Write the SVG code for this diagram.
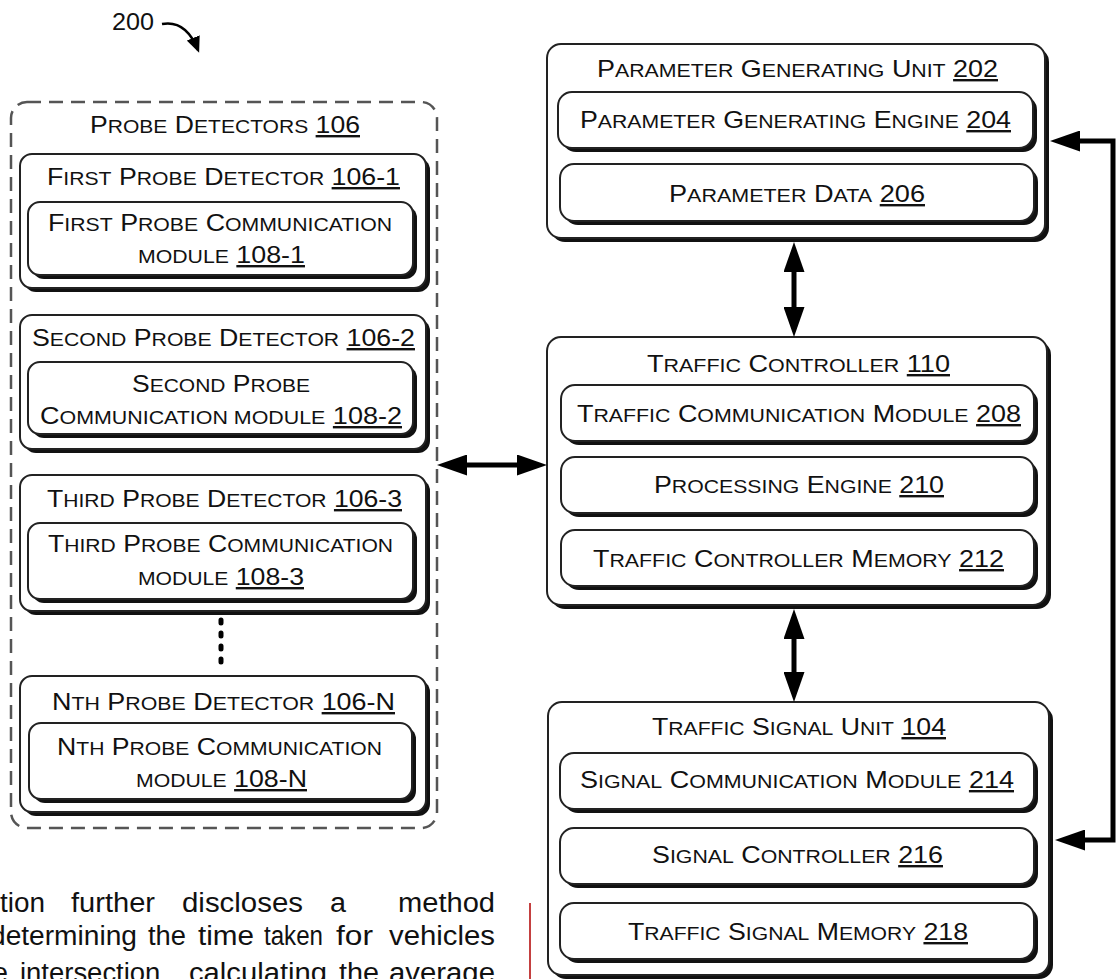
<svg xmlns="http://www.w3.org/2000/svg" width="1116" height="979" viewBox="0 0 1116 979">
<style>
.t{font-family:"Liberation Sans",Arial,sans-serif;font-size:24px;fill:#111;text-anchor:middle}
.s{font-size:19px}
.u{text-decoration:underline}
.box{fill:#fff;stroke:#222;stroke-width:2}
.sh{fill:#111}
.dash{fill:none;stroke:#555;stroke-width:2.5;stroke-dasharray:14 8}
.conn{fill:none;stroke:#000;stroke-width:5}
.para{font-family:"Liberation Sans",Arial,sans-serif;font-size:27px;fill:#111}
</style>
<defs>
<marker id="ah" viewBox="0 0 30 21" refX="20" refY="10.5" markerWidth="30" markerHeight="21" markerUnits="userSpaceOnUse" orient="auto-start-reverse"><path d="M0,0 L30,10.5 L0,21 z" fill="#000"/></marker>
<marker id="ah2" viewBox="0 0 16 14" refX="13" refY="7" markerWidth="16" markerHeight="14" markerUnits="userSpaceOnUse" orient="auto"><path d="M0,0 L16,7 L0,14 z" fill="#000"/></marker>
</defs>
<rect width="1116" height="979" fill="#fff"/>

<g id="label-200">
<text x="112" y="30" class="t" style="text-anchor:start" textLength="42" lengthAdjust="spacingAndGlyphs">200</text>
<path d="M162,24 C178,21 190,30 198,50" fill="none" stroke="#000" stroke-width="2.5" marker-end="url(#ah2)"/>
</g>

<g id="probe-detectors">
<rect x="11" y="102" width="426" height="726" rx="16" class="dash"/>
<text x="225" y="133" class="t" textLength="270" lengthAdjust="spacingAndGlyphs">P<tspan class="s">ROBE</tspan> D<tspan class="s">ETECTORS</tspan> <tspan class="u">106</tspan></text>
</g>

<g id="probe-1">
<rect x="24" y="158" width="406" height="134" rx="12" class="sh"/>
<rect x="20" y="154" width="406" height="134" rx="12" class="box"/>
<text x="223.5" y="185" class="t" textLength="353" lengthAdjust="spacingAndGlyphs">F<tspan class="s">IRST</tspan> P<tspan class="s">ROBE</tspan> D<tspan class="s">ETECTOR</tspan> <tspan class="u">106-1</tspan></text>
<g id="probe-comm-1">
<rect x="32" y="206" width="385" height="73" rx="12" class="sh"/>
<rect x="28" y="202" width="385" height="73" rx="12" class="box"/>
<text x="220" y="231" class="t" textLength="344" lengthAdjust="spacingAndGlyphs">F<tspan class="s">IRST</tspan> P<tspan class="s">ROBE</tspan> C<tspan class="s">OMMUNICATION</tspan></text>
<text x="221.5" y="263" class="t" textLength="167" lengthAdjust="spacingAndGlyphs"><tspan class="s">MODULE</tspan> <tspan class="u">108-1</tspan></text>
</g>
</g>

<g id="probe-2">
<rect x="24" y="319" width="406" height="134" rx="12" class="sh"/>
<rect x="20" y="315" width="406" height="134" rx="12" class="box"/>
<text x="223.5" y="346" class="t" textLength="383" lengthAdjust="spacingAndGlyphs">S<tspan class="s">ECOND</tspan> P<tspan class="s">ROBE</tspan> D<tspan class="s">ETECTOR</tspan> <tspan class="u">106-2</tspan></text>
<g id="probe-comm-2">
<rect x="32" y="366" width="385" height="72" rx="12" class="sh"/>
<rect x="28" y="362" width="385" height="72" rx="12" class="box"/>
<text x="221" y="392" class="t" textLength="178" lengthAdjust="spacingAndGlyphs">S<tspan class="s">ECOND</tspan> P<tspan class="s">ROBE</tspan></text>
<text x="221" y="424" class="t" textLength="362" lengthAdjust="spacingAndGlyphs">C<tspan class="s">OMMUNICATION MODULE</tspan> <tspan class="u">108-2</tspan></text>
</g>
</g>

<g id="probe-3">
<rect x="24" y="479" width="406" height="136" rx="12" class="sh"/>
<rect x="20" y="475" width="406" height="136" rx="12" class="box"/>
<text x="224.5" y="507" class="t" textLength="355" lengthAdjust="spacingAndGlyphs">T<tspan class="s">HIRD</tspan> P<tspan class="s">ROBE</tspan> D<tspan class="s">ETECTOR</tspan> <tspan class="u">106-3</tspan></text>
<g id="probe-comm-3">
<rect x="32" y="527" width="385" height="76" rx="12" class="sh"/>
<rect x="28" y="523" width="385" height="76" rx="12" class="box"/>
<text x="220.5" y="552" class="t" textLength="345" lengthAdjust="spacingAndGlyphs">T<tspan class="s">HIRD</tspan> P<tspan class="s">ROBE</tspan> C<tspan class="s">OMMUNICATION</tspan></text>
<text x="221" y="585" class="t" textLength="166" lengthAdjust="spacingAndGlyphs"><tspan class="s">MODULE</tspan> <tspan class="u">108-3</tspan></text>
</g>
</g>

<g id="probe-n">
<rect x="24" y="680" width="406" height="136" rx="12" class="sh"/>
<rect x="20" y="676" width="406" height="136" rx="12" class="box"/>
<text x="223.5" y="710" class="t" textLength="343" lengthAdjust="spacingAndGlyphs">N<tspan class="s">TH</tspan> P<tspan class="s">ROBE</tspan> D<tspan class="s">ETECTOR</tspan> <tspan class="u">106-N</tspan></text>
<g id="probe-comm-n">
<rect x="33" y="727" width="383" height="76" rx="12" class="sh"/>
<rect x="29" y="723" width="383" height="76" rx="12" class="box"/>
<text x="219.5" y="755" class="t" textLength="325" lengthAdjust="spacingAndGlyphs">N<tspan class="s">TH</tspan> P<tspan class="s">ROBE</tspan> C<tspan class="s">OMMUNICATION</tspan></text>
<text x="221.5" y="787" class="t" textLength="171" lengthAdjust="spacingAndGlyphs"><tspan class="s">MODULE</tspan> <tspan class="u">108-N</tspan></text>
</g>
</g>

<g id="pgu">
<rect x="551" y="48" width="498" height="194" rx="14" class="sh"/>
<rect x="547" y="44" width="498" height="194" rx="14" class="box"/>
<text x="797.5" y="77" class="t" textLength="401" lengthAdjust="spacingAndGlyphs">P<tspan class="s">ARAMETER</tspan> G<tspan class="s">ENERATING</tspan> U<tspan class="s">NIT</tspan> <tspan class="u">202</tspan></text>
<g id="pge">
<rect x="562" y="96" width="475" height="56" rx="14" class="sh"/>
<rect x="558" y="92" width="475" height="56" rx="14" class="box"/>
<text x="795.5" y="128" class="t" textLength="431" lengthAdjust="spacingAndGlyphs">P<tspan class="s">ARAMETER</tspan> G<tspan class="s">ENERATING</tspan> E<tspan class="s">NGINE</tspan> <tspan class="u">204</tspan></text>
</g>
<g id="pdata">
<rect x="564" y="168" width="474" height="57" rx="14" class="sh"/>
<rect x="560" y="164" width="474" height="57" rx="14" class="box"/>
<text x="797" y="202" class="t" textLength="256" lengthAdjust="spacingAndGlyphs">P<tspan class="s">ARAMETER</tspan> D<tspan class="s">ATA</tspan> <tspan class="u">206</tspan></text>
</g>
</g>

<g id="tc">
<rect x="551" y="341" width="500" height="268" rx="14" class="sh"/>
<rect x="547" y="337" width="500" height="268" rx="14" class="box"/>
<text x="798.5" y="372" class="t" textLength="303" lengthAdjust="spacingAndGlyphs">T<tspan class="s">RAFFIC</tspan> C<tspan class="s">ONTROLLER</tspan> <tspan class="u">110</tspan></text>
<g id="tcm">
<rect x="565" y="389" width="473" height="56" rx="14" class="sh"/>
<rect x="561" y="385" width="473" height="56" rx="14" class="box"/>
<text x="799" y="422" class="t" textLength="444" lengthAdjust="spacingAndGlyphs">T<tspan class="s">RAFFIC</tspan> C<tspan class="s">OMMUNICATION</tspan> M<tspan class="s">ODULE</tspan> <tspan class="u">208</tspan></text>
</g>
<g id="pe">
<rect x="565" y="461" width="473" height="56" rx="14" class="sh"/>
<rect x="561" y="457" width="473" height="56" rx="14" class="box"/>
<text x="799" y="493" class="t" textLength="290" lengthAdjust="spacingAndGlyphs">P<tspan class="s">ROCESSING</tspan> E<tspan class="s">NGINE</tspan> <tspan class="u">210</tspan></text>
</g>
<g id="tcmem">
<rect x="565" y="534" width="473" height="56" rx="14" class="sh"/>
<rect x="561" y="530" width="473" height="56" rx="14" class="box"/>
<text x="798.5" y="567" class="t" textLength="411" lengthAdjust="spacingAndGlyphs">T<tspan class="s">RAFFIC</tspan> C<tspan class="s">ONTROLLER</tspan> M<tspan class="s">EMORY</tspan> <tspan class="u">212</tspan></text>
</g>
</g>

<g id="tsu">
<rect x="552" y="706" width="501" height="273" rx="14" class="sh"/>
<rect x="548" y="702" width="501" height="273" rx="14" class="box"/>
<text x="799" y="735" class="t" textLength="294" lengthAdjust="spacingAndGlyphs">T<tspan class="s">RAFFIC</tspan> S<tspan class="s">IGNAL</tspan> U<tspan class="s">NIT</tspan> <tspan class="u">104</tspan></text>
<g id="scm">
<rect x="564" y="757" width="474" height="56" rx="14" class="sh"/>
<rect x="560" y="753" width="474" height="56" rx="14" class="box"/>
<text x="797" y="788" class="t" textLength="434" lengthAdjust="spacingAndGlyphs">S<tspan class="s">IGNAL</tspan> C<tspan class="s">OMMUNICATION</tspan> M<tspan class="s">ODULE</tspan> <tspan class="u">214</tspan></text>
</g>
<g id="sc">
<rect x="564" y="832" width="474" height="56" rx="14" class="sh"/>
<rect x="560" y="828" width="474" height="56" rx="14" class="box"/>
<text x="797.5" y="863" class="t" textLength="291" lengthAdjust="spacingAndGlyphs">S<tspan class="s">IGNAL</tspan> C<tspan class="s">ONTROLLER</tspan> <tspan class="u">216</tspan></text>
</g>
<g id="tsm">
<rect x="564" y="907" width="474" height="56" rx="14" class="sh"/>
<rect x="560" y="903" width="474" height="56" rx="14" class="box"/>
<text x="798" y="940" class="t" textLength="340" lengthAdjust="spacingAndGlyphs">T<tspan class="s">RAFFIC</tspan> S<tspan class="s">IGNAL</tspan> M<tspan class="s">EMORY</tspan> <tspan class="u">218</tspan></text>
</g>
</g>

<g id="connectors">
<line x1="221" y1="620" x2="221" y2="672" stroke="#000" stroke-width="5" stroke-linecap="round" stroke-dasharray="3 10"/>
<line x1="447" y1="465" x2="537" y2="465" class="conn" marker-start="url(#ah)" marker-end="url(#ah)"/>
<line x1="794" y1="252" x2="794" y2="327" class="conn" marker-start="url(#ah)" marker-end="url(#ah)"/>
<line x1="794" y1="619" x2="794" y2="692" class="conn" marker-start="url(#ah)" marker-end="url(#ah)"/>
<path d="M1060,141 H1113 V840 H1065" class="conn" marker-start="url(#ah)" marker-end="url(#ah)"/>
</g>

<g id="paragraph">
<text class="para" y="912"><tspan x="0" textLength="45" lengthAdjust="spacingAndGlyphs">tion</tspan><tspan x="71" textLength="84" lengthAdjust="spacingAndGlyphs">further</tspan><tspan x="182" textLength="121" lengthAdjust="spacingAndGlyphs">discloses</tspan><tspan x="330" textLength="16" lengthAdjust="spacingAndGlyphs">a</tspan><tspan x="398" textLength="97" lengthAdjust="spacingAndGlyphs">method</tspan></text>
<text class="para" y="945"><tspan x="-10" textLength="147" lengthAdjust="spacingAndGlyphs">determining</tspan><tspan x="148" textLength="38" lengthAdjust="spacingAndGlyphs">the</tspan><tspan x="198" textLength="56" lengthAdjust="spacingAndGlyphs">time</tspan><tspan x="264" textLength="59" lengthAdjust="spacingAndGlyphs">taken</tspan><tspan x="336" textLength="37" lengthAdjust="spacingAndGlyphs">for</tspan><tspan x="389" textLength="106" lengthAdjust="spacingAndGlyphs">vehicles</tspan></text>
<text class="para" y="982"><tspan x="-32" textLength="40" lengthAdjust="spacingAndGlyphs">the</tspan><tspan x="20" textLength="148" lengthAdjust="spacingAndGlyphs">intersection,</tspan><tspan x="189" textLength="138" lengthAdjust="spacingAndGlyphs">calculating</tspan><tspan x="339" textLength="40" lengthAdjust="spacingAndGlyphs">the</tspan><tspan x="389" textLength="106" lengthAdjust="spacingAndGlyphs">average</tspan></text>
<line x1="530" y1="903" x2="530" y2="979" stroke="#b00000" stroke-width="1.5"/>
</g>
</svg>
